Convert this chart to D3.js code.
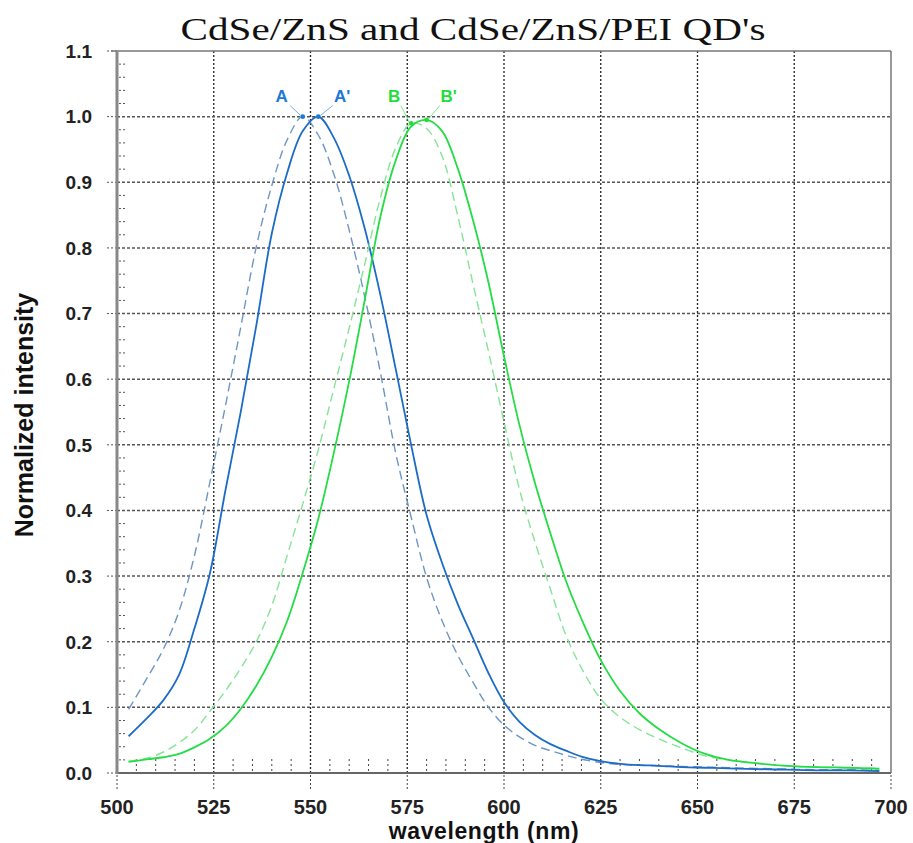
<!DOCTYPE html>
<html>
<head>
<meta charset="utf-8">
<script src="https://cdn.jsdelivr.net/npm/d3@7"></script>
<style>
  body { margin: 0; background: #fff; }
  svg { display: block; }
</style>
</head>
<body>
<div id="chart"></div>
<script>
var width = 913;
var height = 843;
var margin = {top: 51, left: 117, right: 22, bottom: 70};

var title = "CdSe/ZnS and CdSe/ZnS/PEI QD's";
var xTicks = [500, 525, 550, 575, 600, 625, 650, 675, 700];
var yTicks = [0.0, 0.1, 0.2, 0.3, 0.4, 0.5, 0.6, 0.7, 0.8, 0.9, 1.0, 1.1];

var wavelength = [503, 508, 512, 516, 520, 524, 528, 532, 536, 540, 544, 548, 552, 556, 560,
  564, 568, 572, 576, 580, 584, 588, 592, 596, 600, 604, 608, 612, 616, 620, 625, 630, 635,
  640, 646, 652, 658, 665, 673, 681, 689, 697];

// A  : CdSe/ZnS (dashed blue)
var valuesA = [0.097, 0.147, 0.189, 0.246, 0.331, 0.443, 0.559, 0.68, 0.802, 0.895, 0.965, 1.0,
  0.972, 0.913, 0.827, 0.726, 0.612, 0.488, 0.39, 0.298, 0.232, 0.18, 0.138, 0.1, 0.073, 0.055,
  0.042, 0.034, 0.027, 0.021, 0.016, 0.013, 0.012, 0.011, 0.01, 0.009, 0.008, 0.007, 0.006,
  0.005, 0.005, 0.004];
// A' : CdSe/ZnS/PEI (solid blue)
var valuesA2 = [0.056, 0.085, 0.111, 0.149, 0.22, 0.304, 0.43, 0.551, 0.682, 0.822, 0.915, 0.978,
  1.0, 0.968, 0.91, 0.83, 0.73, 0.616, 0.5, 0.393, 0.32, 0.258, 0.205, 0.152, 0.108, 0.078,
  0.058, 0.044, 0.034, 0.025, 0.018, 0.014, 0.012, 0.011, 0.009, 0.008, 0.007, 0.006, 0.005,
  0.004, 0.004, 0.003];
// B  : CdSe/ZnS (dashed green)
var valuesB = [0.018, 0.023, 0.032, 0.046, 0.065, 0.094, 0.125, 0.16, 0.2, 0.255, 0.332, 0.41,
  0.492, 0.585, 0.678, 0.775, 0.875, 0.952, 0.99, 0.982, 0.94, 0.85, 0.745, 0.642, 0.535, 0.432,
  0.352, 0.28, 0.21, 0.16, 0.113, 0.085, 0.066, 0.052, 0.038, 0.026, 0.02, 0.015, 0.011,
  0.009, 0.008, 0.007];
// B' : CdSe/ZnS/PEI (solid green)
var valuesB2 = [0.017, 0.021, 0.024, 0.029, 0.039, 0.052, 0.071, 0.098, 0.133, 0.177, 0.232, 0.305,
  0.387, 0.487, 0.597, 0.72, 0.846, 0.933, 0.985, 0.995, 0.978, 0.922, 0.842, 0.747, 0.635, 0.53,
  0.442, 0.365, 0.293, 0.235, 0.172, 0.125, 0.091, 0.067, 0.045, 0.029, 0.02, 0.015, 0.011,
  0.009, 0.008, 0.0065];

var series = [
  {name: "A", values: valuesA, color: "#6d96c4", dash: "9,5", w: 1.4},
  {name: "A'", values: valuesA2, color: "#1c6cc6", dash: null, w: 1.8},
  {name: "B", values: valuesB, color: "#86e496", dash: "9,5", w: 1.4},
  {name: "B'", values: valuesB2, color: "#25dc45", dash: null, w: 1.8}
];

// peak labels
var peakNames = ["A", "A'", "B", "B'"];
var peakX = [548, 552, 576, 580];
var peakColors = ["#1e78d6", "#1e78d6", "#22dd3a", "#22dd3a"];
var labelDx = [-21, 24, -17, 22];

var svg = d3.select("#chart")
  .append("svg")
  .attr("width", width)
  .attr("height", height);

var xScale = d3.scaleLinear()
  .domain([500, 700])
  .range([margin.left, width - margin.right]);

var yScale = d3.scaleLinear()
  .domain([0, 1.1])
  .range([height - margin.bottom, margin.top]);

var bottom = height - margin.bottom;
var right = width - margin.right;

// grid
svg.append("g")
  .selectAll("line")
  .data(xTicks.slice(1, -1))
  .enter()
  .append("line")
    .attr("x1", function(d) { return xScale(d); })
    .attr("x2", function(d) { return xScale(d); })
    .attr("y1", margin.top)
    .attr("y2", bottom)
    .attr("stroke", "#222")
    .attr("stroke-width", 1.3)
    .attr("stroke-dasharray", "2,2");

svg.append("g")
  .selectAll("line")
  .data(yTicks.slice(1, -1))
  .enter()
  .append("line")
    .attr("x1", margin.left)
    .attr("x2", right)
    .attr("y1", function(d) { return yScale(d); })
    .attr("y2", function(d) { return yScale(d); })
    .attr("stroke", "#555")
    .attr("stroke-width", 1.5)
    .attr("stroke-dasharray", "3,2");

// minor ticks inside the frame
var xMinor = d3.range(505, 700, 5).filter(function(d) { return d % 25 !== 0; });
svg.append("g")
  .selectAll("line")
  .data(xMinor)
  .enter()
  .append("line")
    .attr("x1", function(d) { return xScale(d); })
    .attr("x2", function(d) { return xScale(d); })
    .attr("y1", bottom - 14)
    .attr("y2", bottom - 2)
    .attr("stroke", "#444")
    .attr("stroke-dasharray", "2,3");

var yMinor = d3.range(1, 55).map(function(i) { return i * 0.02; })
  .filter(function(d) { return Math.abs(d * 10 - Math.round(d * 10)) > 0.01; });
svg.append("g")
  .selectAll("line")
  .data(yMinor)
  .enter()
  .append("line")
    .attr("x1", margin.left + 2)
    .attr("x2", margin.left + 9)
    .attr("y1", function(d) { return yScale(d); })
    .attr("y2", function(d) { return yScale(d); })
    .attr("stroke", "#555")
    .attr("stroke-dasharray", "2,2");

// major ticks outside
svg.append("g")
  .selectAll("line")
  .data(xTicks)
  .enter()
  .append("line")
    .attr("x1", function(d) { return xScale(d); })
    .attr("x2", function(d) { return xScale(d); })
    .attr("y1", bottom + 2)
    .attr("y2", bottom + 18)
    .attr("stroke", "#444")
    .attr("stroke-dasharray", "2,2");

svg.append("g")
  .selectAll("line")
  .data(yTicks)
  .enter()
  .append("line")
    .attr("x1", margin.left - 10)
    .attr("x2", margin.left)
    .attr("y1", function(d) { return yScale(d); })
    .attr("y2", function(d) { return yScale(d); })
    .attr("stroke", "#555")
    .attr("stroke-dasharray", "2,2");

// frame
svg.append("line")
  .attr("x1", margin.left - 6).attr("x2", right)
  .attr("y1", margin.top).attr("y2", margin.top)
  .attr("stroke", "#777").attr("stroke-width", 1.5);
svg.append("line")
  .attr("x1", right).attr("x2", right)
  .attr("y1", margin.top).attr("y2", bottom)
  .attr("stroke", "#777").attr("stroke-width", 1.5);
svg.append("line")
  .attr("x1", margin.left).attr("x2", right)
  .attr("y1", bottom).attr("y2", bottom)
  .attr("stroke", "#666").attr("stroke-width", 2);
svg.append("line")
  .attr("x1", margin.left).attr("x2", margin.left)
  .attr("y1", margin.top).attr("y2", bottom + 1)
  .attr("stroke", "#888").attr("stroke-width", 3);

// tick labels
svg.append("g")
  .selectAll("text")
  .data(xTicks)
  .enter()
  .append("text")
    .attr("x", function(d) { return xScale(d); })
    .attr("y", bottom + 41)
    .attr("text-anchor", "middle")
    .attr("font-family", "'Liberation Sans', Arial, sans-serif")
    .attr("font-weight", "bold")
    .attr("font-size", 20)
    .attr("fill", "#222")
    .text(function(d) { return d; });

svg.append("g")
  .selectAll("text")
  .data(yTicks)
  .enter()
  .append("text")
    .attr("x", margin.left - 25)
    .attr("y", function(d) { return yScale(d); })
    .attr("dy", "0.36em")
    .attr("text-anchor", "end")
    .attr("font-family", "'Liberation Sans', Arial, sans-serif")
    .attr("font-weight", "bold")
    .attr("font-size", 19)
    .attr("fill", "#222")
    .text(function(d) { return d.toFixed(1); });

// curves
var line = d3.line()
  .x(function(d) { return xScale(d[0]); })
  .y(function(d) { return yScale(d[1]); })
  .curve(d3.curveCatmullRom.alpha(0.5));

svg.append("g")
  .selectAll("path")
  .data(series)
  .enter()
  .append("path")
    .attr("d", function(s) { return line(wavelength.map(function(w, i) { return [w, s.values[i]]; })); })
    .attr("fill", "none")
    .attr("stroke", function(s) { return s.color; })
    .attr("stroke-width", function(s) { return s.w; })
    .attr("stroke-dasharray", function(s) { return s.dash; });

// peak labels with leader lines
var peaks = peakNames.map(function(n, i) {
  var s = series[i];
  var j = wavelength.indexOf(peakX[i]);
  return {name: n, x: peakX[i], y: s.values[j], color: peakColors[i], dx: labelDx[i]};
});

var pk = svg.append("g").selectAll("g").data(peaks).enter().append("g");
pk.append("line")
  .attr("x1", function(d) { return xScale(d.x) + Math.sign(d.dx) * 2; })
  .attr("y1", function(d) { return yScale(d.y) - 1; })
  .attr("x2", function(d) { return xScale(d.x) + d.dx * 0.6; })
  .attr("y2", function(d) { return yScale(1.0) - 11; })
  .attr("stroke", function(d) { return d.color; })
  .attr("stroke-opacity", 0.6)
  .attr("stroke-width", 1);
pk.append("circle")
  .attr("cx", function(d) { return xScale(d.x); })
  .attr("cy", function(d) { return yScale(d.y); })
  .attr("r", 2.3)
  .attr("fill", function(d) { return d.color; });
pk.append("text")
  .attr("x", function(d) { return xScale(d.x) + d.dx; })
  .attr("y", yScale(1.0) - 15)
  .attr("text-anchor", "middle")
  .attr("font-family", "'Liberation Sans', Arial, sans-serif")
  .attr("font-weight", "bold")
  .attr("font-size", 17)
  .attr("fill", function(d) { return d.color; })
  .text(function(d) { return d.name; });

// titles
svg.append("text")
  .attr("x", 473)
  .attr("y", 40)
  .attr("text-anchor", "middle")
  .attr("font-family", "'Liberation Serif', 'Times New Roman', serif")
  .attr("font-size", 32)
  .attr("textLength", 585)
  .attr("lengthAdjust", "spacingAndGlyphs")
  .attr("fill", "#111")
  .text(title);

svg.append("text")
  .attr("transform", "translate(33,415) rotate(-90)")
  .attr("text-anchor", "middle")
  .attr("font-family", "'Liberation Sans', Arial, sans-serif")
  .attr("font-weight", "bold")
  .attr("font-size", 25)
  .attr("fill", "#111")
  .text("Normalized intensity");

svg.append("text")
  .attr("x", 484)
  .attr("y", 839)
  .attr("text-anchor", "middle")
  .attr("font-family", "'Liberation Sans', Arial, sans-serif")
  .attr("font-weight", "bold")
  .attr("font-size", 23)
  .attr("letter-spacing", 0.6)
  .attr("fill", "#111")
  .text("wavelength (nm)");
</script>
</body>
</html>
